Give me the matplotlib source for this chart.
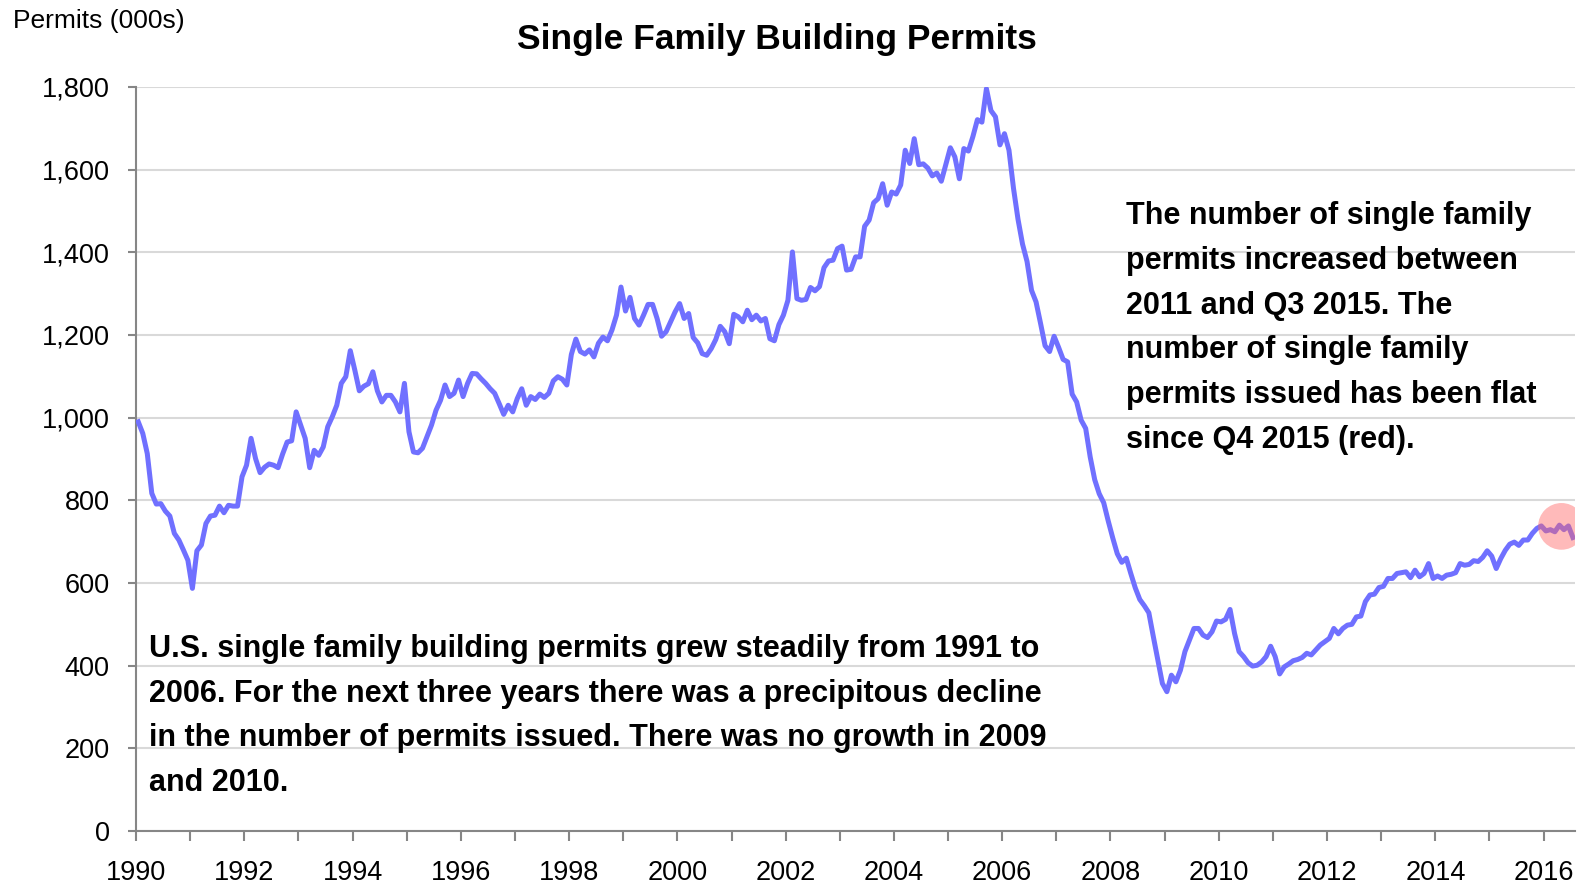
import numpy as np
import matplotlib
matplotlib.use("Agg")
import matplotlib.pyplot as plt
from matplotlib.ticker import FuncFormatter

plt.rcParams['font.family'] = ['Liberation Sans Narrow', 'Liberation Sans', 'DejaVu Sans']

# Monthly single family permits (000s, SAAR), Jan 1990 .. Jul 2016
start_year = 1990
permits = [
    990, 962, 913, 817, 791, 792, 774, 762, 720, 704, 680, 655,          # 1990
    587, 678, 692, 744, 762, 764, 786, 770, 788, 786, 786, 857,          # 1991
    885, 950, 901, 867, 880, 888, 885, 879, 912, 941, 944, 1014,         # 1992
    982, 950, 879, 921, 909, 929, 978, 1002, 1030, 1083, 1099, 1162,     # 1993
    1115, 1065, 1076, 1082, 1111, 1065, 1038, 1054, 1054, 1038, 1014, 1083,  # 1994
    966, 917, 915, 926, 954, 982, 1018, 1042, 1079, 1051, 1059, 1091,    # 1995
    1051, 1083, 1107, 1106, 1094, 1083, 1070, 1059, 1034, 1008, 1030, 1014,  # 1996
    1046, 1070, 1030, 1051, 1044, 1057, 1049, 1059, 1089, 1099, 1093, 1079,  # 1997
    1153, 1190, 1160, 1154, 1164, 1147, 1180, 1195, 1186, 1212, 1248, 1316,  # 1998
    1258, 1291, 1240, 1224, 1248, 1274, 1274, 1240, 1197, 1208, 1232, 1256,  # 1999
    1276, 1240, 1252, 1194, 1181, 1155, 1151, 1167, 1189, 1221, 1208, 1179,  # 2000
    1250, 1244, 1232, 1260, 1237, 1248, 1234, 1240, 1191, 1186, 1225, 1248,  # 2001
    1284, 1401, 1288, 1284, 1286, 1315, 1307, 1317, 1363, 1379, 1381, 1409,  # 2002
    1415, 1357, 1359, 1389, 1389, 1463, 1478, 1520, 1530, 1566, 1514, 1546,  # 2003
    1541, 1563, 1647, 1615, 1675, 1612, 1614, 1604, 1585, 1592, 1572, 1612,  # 2004
    1653, 1631, 1578, 1651, 1645, 1680, 1721, 1715, 1796, 1743, 1728, 1660,  # 2005
    1687, 1647, 1555, 1480, 1420, 1378, 1308, 1280, 1228, 1174, 1160, 1197,  # 2006
    1170, 1141, 1135, 1057, 1038, 994, 974, 905, 850, 816, 794, 750,     # 2007
    709, 671, 650, 660, 623, 588, 560, 545, 528, 470, 414, 357,          # 2008
    337, 377, 361, 389, 434, 462, 490, 490, 474, 468, 482, 508,          # 2009
    506, 512, 536, 478, 434, 422, 407, 399, 401, 409, 422, 447,          # 2010
    422, 380, 397, 404, 412, 415, 420, 430, 426, 438, 450, 458,          # 2011
    466, 490, 477, 490, 498, 500, 518, 520, 555, 571, 573, 589,          # 2012
    592, 611, 611, 623, 625, 627, 613, 631, 615, 623, 647, 611,          # 2013
    617, 611, 619, 621, 625, 647, 643, 645, 654, 652, 662, 678,          # 2014
    665, 635, 659, 679, 694, 699, 691, 704, 704, 720, 732, 738,          # 2015
    726, 729, 724, 740, 729, 738, 710,                                   # 2016
]

y_ticks = [0, 200, 400, 600, 800, 1000, 1200, 1400, 1600, 1800]
x_tick_years = list(range(1990, 2017))
x_label_years = list(range(1990, 2017, 2))

# red highlight over the flat period since Q4 2015
highlight_x = 2016.33
highlight_y = 737

title = "Single Family Building Permits"
y_title = "Permits (000s)"
note_right = ("The number of single family\n"
              "permits increased between\n"
              "2011 and Q3 2015. The\n"
              "number of single family\n"
              "permits issued has been flat\n"
              "since Q4 2015 (red).")
note_left = ("U.S. single family building permits grew steadily from 1991 to\n"
             "2006. For the next three years there was a precipitous decline\n"
             "in the number of permits issued. There was no growth in 2009\n"
             "and 2010.")

line_color = '#7070ff'
grid_color = '#d9d9d9'
axis_color = '#868686'

t = start_year + (np.arange(len(permits)) + 0.5) / 12.0

fig = plt.figure(figsize=(15.93, 8.86), dpi=100)
ax = fig.add_axes([136 / 1593, 1 - 831 / 886, (1575 - 136) / 1593, (831 - 87) / 886])

ax.plot(t, permits, color=line_color, lw=3.6, solid_joinstyle='round', zorder=3)
ax.scatter([highlight_x], [highlight_y], s=1130, color='#ff6666', alpha=0.45,
           edgecolors='none', zorder=4)

ax.set_xlim(1990, 2016.58)
ax.set_ylim(0, 1800)

ax.set_yticks(y_ticks)
ax.yaxis.set_major_formatter(FuncFormatter(lambda v, p: f"{int(v):,}"))
ax.set_xticks(x_tick_years)
ax.set_xticklabels([str(y) if y in x_label_years else '' for y in x_tick_years])

ax.grid(axis='y', color=grid_color, lw=1.5, zorder=0)
ax.set_axisbelow(True)
for side in ['top', 'right']:
    ax.spines[side].set_visible(False)
for side in ['left', 'bottom']:
    ax.spines[side].set_color(axis_color)
    ax.spines[side].set_linewidth(1.5)

ax.tick_params(axis='x', direction='out', length=7, width=1.5, color=axis_color,
               labelsize=19.5, pad=14)
ax.tick_params(axis='y', direction='out', length=6, width=1.5, color=axis_color,
               labelsize=19.5, pad=13)

fig.text(777 / 1593, 1 - 40 / 886, title, ha='center', va='center',
         fontsize=25.5, fontweight='bold')
fig.text(13 / 1593, 1 - 21 / 886, y_title, ha='left', va='center', fontsize=19)

fig.text(1126 / 1593, 1 - 328 / 886, note_right, ha='left', va='center',
         fontsize=22, fontweight='bold', linespacing=1.65)
fig.text(149 / 1593, 1 - 716 / 886, note_left, ha='left', va='center',
         fontsize=22, fontweight='bold', linespacing=1.65)

fig.savefig('out.png', dpi=100)
